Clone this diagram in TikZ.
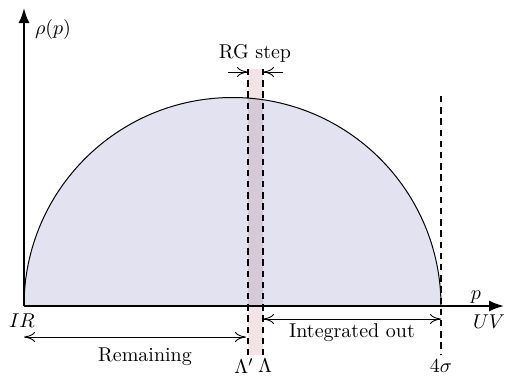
\documentclass[tikz,border=0pt]{standalone}
\usetikzlibrary{arrows.meta, positioning, calc}
\usepackage{amsmath}

\definecolor{spec}{RGB}{226,226,240}
\definecolor{stepband}{RGB}{242,228,230}

\begin{document}
\begin{tikzpicture}[
        x=0.5pt, y=-0.5pt,
        >={To[length=5.5pt, width=5pt]},
        axis/.style={-{Latex[length=7.5pt, width=5.5pt]}, line width=0.9pt},
        cut/.style={dash pattern=on 3.2pt off 2.4pt, line width=0.7pt},
        span/.style={<->, line width=0.45pt},
        band/.style={fill=stepband, draw=none, blend mode=multiply},
        label/.style={inner sep=1pt}
    ]
        \useasboundingbox (0,0) rectangle (517,376);
        % points
        \coordinate (O)    at (24,306);
        \coordinate (ytop) at (24,8);
        \coordinate (xend) at (504,306);

        % spectral density
        \fill[spec] (O) arc[start angle=180, end angle=360, radius=208.5] -- cycle;
        \draw[line width=0.5pt] (O) arc[start angle=180, end angle=360, radius=208.5];
        \fill[band] (248,69) rectangle (263,355);

        % cuts
        \draw[cut] (248,69) -- (248,355);
        \draw[cut] (263,69) -- (263,355);
        \draw[cut] (441,96) -- (441,355);

        % axes
        \draw[axis] (O) -- (ytop);
        \draw[axis] (O) -- (xend);
        \node[label] (rho) at (53,29)  {$\rho(p)$};
        \node[label] (p)   at (476,297) {$p$};
        \node[label] (uv)  at (489,322) {$UV$};
        \node[label] (ir)  at (22,321)  {$IR$};

        % RG step
        \node[label] (rg) at (255,53) {RG step};
        \coordinate (rgl) at (228,72);
        \coordinate (rgr) at (283,72);
        \draw[->, line width=0.45pt] (rgl) -- (248,72);
        \draw[->, line width=0.45pt] (rgr) -- (263,72);

        % ranges
        \coordinate (remL) at (24,337);
        \coordinate (remR) at (246,337);
        \coordinate (intL) at (263,319);
        \coordinate (intR) at (441,319);
        \draw[span] (remL) -- (remR);
        \draw[span] (intL) -- (intR);
        \node[label] (rem) at (145,357) {Remaining};
        \node[label] (int) at (352,333) {Integrated out};

        % scale labels
        \node[label] (lamp) at (244,366) {$\Lambda'$};
        \node[label] (lam)  at (265,366) {$\Lambda$};
        \node[label] (four) at (441,366) {$4\sigma$};
    \end{tikzpicture}
\end{document}
